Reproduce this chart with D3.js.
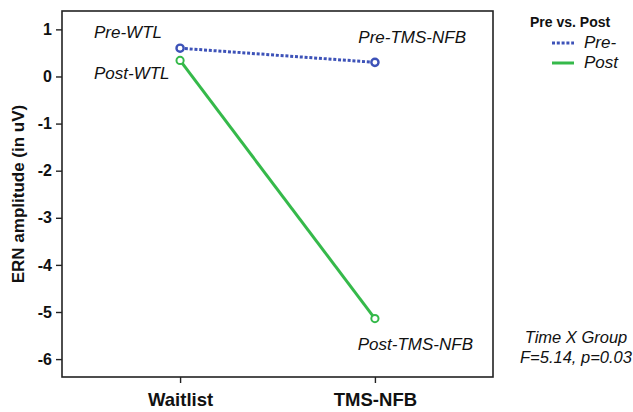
<!DOCTYPE html>
<html><head><meta charset="utf-8">
<script src="https://cdn.jsdelivr.net/npm/d3@7"></script>
<style>body{margin:0;background:#fff}svg{display:block;font-family:"Liberation Sans",Arial,sans-serif}</style>
</head><body>
<svg id="c" width="633" height="412"></svg>
<script>
const groups = ["Waitlist", "TMS-NFB"];
const preValues = [0.60, 0.30];
const postValues = [0.34, -5.14];
const yTicks = [1, 0, -1, -2, -3, -4, -5, -6];
const seriesNames = ["Pre-", "Post"];
const pointLabelsPre = ["Pre-WTL", "Pre-TMS-NFB"];
const pointLabelsPost = ["Post-WTL", "Post-TMS-NFB"];

const svg = d3.select("#c");
const L = 62, R = 493, T = 11, B = 377;
const blue = "#3d52b8", green = "#35b94a";

const x = d3.scalePoint().domain(groups).range([L, R]).padding(0.606);
const y = d3.scaleLinear().domain([-6.38, 1.39]).range([B, T]);

svg.append("rect").attr("x", L).attr("y", T).attr("width", R - L).attr("height", B - T)
  .attr("fill", "none").attr("stroke", "#222").attr("stroke-width", 1.6);

const yAx = svg.append("g").attr("transform", `translate(${L},0)`)
  .call(d3.axisLeft(y).tickValues(yTicks).tickSize(6).tickFormat(d => String(d)));
yAx.select(".domain").remove();
yAx.selectAll("line").attr("stroke", "#222").attr("stroke-width", 1.4);
yAx.selectAll("text").attr("font-size", 16).attr("font-weight", "bold").attr("fill", "#111").attr("dx", -1);

const xAx = svg.append("g").attr("transform", `translate(0,${B})`)
  .call(d3.axisBottom(x).tickSize(6));
xAx.select(".domain").remove();
xAx.selectAll("line").attr("stroke", "#222").attr("stroke-width", 1.4);
xAx.selectAll("text").attr("font-size", 18.5).attr("font-weight", "bold").attr("fill", "#111").attr("dy", 20);

svg.append("text").attr("transform", `translate(24,${(T + B) / 2}) rotate(-90)`)
  .attr("text-anchor", "middle").attr("font-size", 17).attr("font-weight", "bold").attr("fill", "#111")
  .text("ERN amplitude (in uV)");

const line = d3.line().x((d, i) => x(groups[i])).y(d => y(d));
svg.append("path").datum(postValues).attr("d", line).attr("fill", "none")
  .attr("stroke", green).attr("stroke-width", 3);
svg.append("path").datum(preValues).attr("d", line).attr("fill", "none")
  .attr("stroke", blue).attr("stroke-width", 3).attr("stroke-dasharray", "3,1.8");

svg.selectAll(".mpre").data(preValues).enter().append("circle")
  .attr("cx", (d, i) => x(groups[i])).attr("cy", d => y(d)).attr("r", 3.6)
  .attr("fill", "#fff").attr("stroke", blue).attr("stroke-width", 2.4);
svg.selectAll(".mpost").data(postValues).enter().append("circle")
  .attr("cx", (d, i) => x(groups[i])).attr("cy", d => y(d)).attr("r", 3.6)
  .attr("fill", "#fff").attr("stroke", green).attr("stroke-width", 2);

const lab = (t, xx, yy, anchor) => svg.append("text").attr("x", xx).attr("y", yy)
  .attr("text-anchor", anchor).attr("font-size", 17).attr("font-style", "italic").attr("fill", "#111").text(t);
lab(pointLabelsPre[0], 94, 38, "start");
lab(pointLabelsPost[0], 94, 79, "start");
lab(pointLabelsPre[1], 466, 43, "end");
lab(pointLabelsPost[1], 473, 350, "end");

svg.append("text").attr("x", 530).attr("y", 27).attr("font-size", 14).attr("font-weight", "bold")
  .attr("fill", "#111").text("Pre vs. Post");
const leg = [{n: seriesNames[0], c: blue, dash: "3,1.8", y: 43}, {n: seriesNames[1], c: green, dash: null, y: 63}];
leg.forEach(l => {
  svg.append("line").attr("x1", 552).attr("x2", 574).attr("y1", l.y).attr("y2", l.y)
    .attr("stroke", l.c).attr("stroke-width", 3).attr("stroke-dasharray", l.dash);
  svg.append("text").attr("x", 584).attr("y", l.y + 5).attr("font-size", 17).attr("font-style", "italic")
    .attr("fill", "#111").text(l.n);
});

svg.append("text").attr("x", 576).attr("y", 343).attr("text-anchor", "middle").attr("font-size", 16.5)
  .attr("font-style", "italic").attr("fill", "#111").text("Time X Group");
svg.append("text").attr("x", 576).attr("y", 363).attr("text-anchor", "middle").attr("font-size", 16.5)
  .attr("font-style", "italic").attr("fill", "#111").text("F=5.14, p=0.03");
</script>
</body></html>
